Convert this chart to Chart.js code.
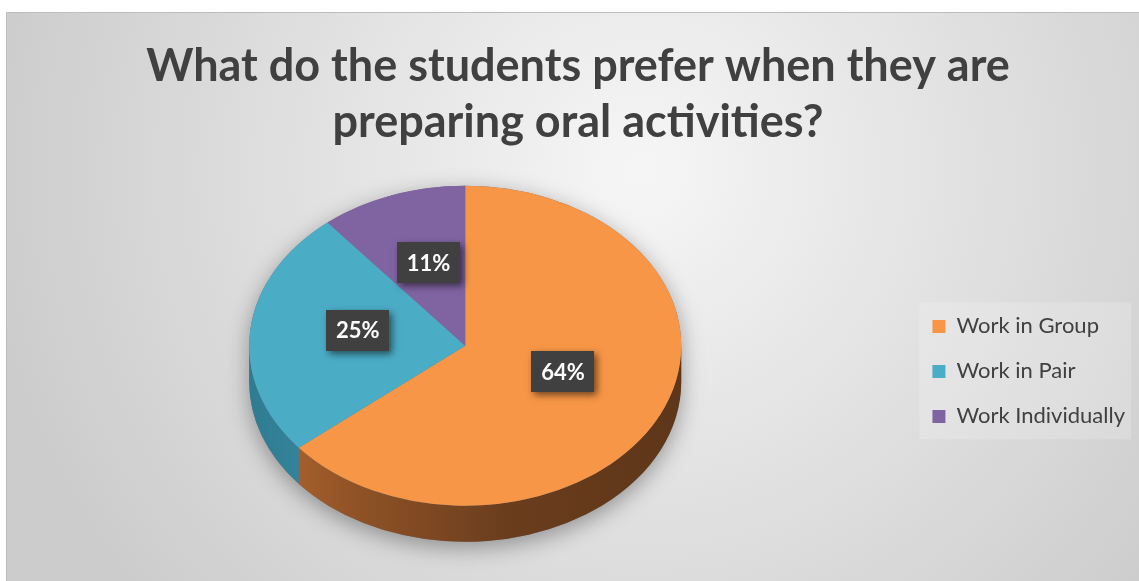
<!DOCTYPE html>
<html>
<head>
<meta charset="utf-8">
<script src="https://cdn.jsdelivr.net/npm/chart.js@4/dist/chart.umd.min.js"></script>
<style>
  html, body { margin: 0; padding: 0; background: #fff; }
  #wrap { width: 1139px; height: 581px; }
</style>
</head>
<body>
<div id="wrap"><canvas id="chartCanvas"></canvas></div>
<script>
// --- data ---
const categories = ["Work in Group", "Work in Pair", "Work Individually"];
const shares = [64, 25, 11];
const sliceColors = ["#F79646", "#4BACC6", "#8064A2"];
const sideColors = [
  ["#b56830", "#8f5226", "#6a3d1d", "#5e3619"],
  ["#2f7c92", "#3a8ba3", "#3a8ba3", "#3a8ba3"],
  ["#5d4a78", "#5d4a78", "#5d4a78", "#5d4a78"]
];
const titleLines = ["What do the students prefer when they are", "preparing oral activities?"];

const canvas = document.getElementById("chartCanvas");
const inkColor = "#404040";

// --- frame + background gradient ---
const frameBg = {
  id: "frameBg",
  beforeDraw(chart) {
    const { ctx, width, height } = chart;
    ctx.save();
    ctx.fillStyle = "#ffffff";
    ctx.fillRect(0, 0, width, height);
    const g = ctx.createRadialGradient(640, 170, 0, 640, 170, 660);
    g.addColorStop(0, "#f6f6f6");
    g.addColorStop(1, "#cccccc");
    ctx.fillStyle = g;
    ctx.fillRect(6, 12, width - 6, height - 12);
    ctx.strokeStyle = "#bdbdbd";
    ctx.lineWidth = 1;
    ctx.strokeRect(6.5, 12.5, width, height);

    // faint box behind the legend
    const lg = chart.legend;
    if (lg && lg.legendHitBoxes && lg.legendHitBoxes.length) {
      const hb = lg.legendHitBoxes;
      const x0 = hb[0].left - 13, y0 = hb[0].top - 13;
      const x1 = Math.max(...hb.map(h => h.left + h.width)) + 6;
      const y1 = hb[hb.length - 1].top + hb[hb.length - 1].height + 12;
      ctx.fillStyle = "rgba(255,255,255,0.18)";
      ctx.fillRect(x0, y0, x1 - x0, y1 - y0);
    }
    ctx.restore();
  }
};

// --- tilt the pie into an ellipse and give it a side wall ---
function tiltY(chart, y, o) {
  const a = chart.getDatasetMeta(0).data[0];
  return a.y - o.lift + (y - a.y) * o.ratio;
}

const pie3d = {
  id: "pie3d",
  beforeDatasetsDraw(chart, args, o) {
    const ctx = chart.ctx;
    const arcs = chart.getDatasetMeta(0).data;
    const { x: cx, y: cy, outerRadius: r } = arcs[0];
    const D = o.depth / o.ratio;

    ctx.save();
    ctx.translate(0, -o.lift);
    ctx.translate(cx, cy);
    ctx.scale(1, o.ratio);
    ctx.translate(-cx, -cy);

    // soft shadow under the whole pie
    ctx.save();
    ctx.shadowColor = "rgba(0,0,0,0.35)";
    ctx.shadowBlur = 22;
    ctx.shadowOffsetY = 6;
    ctx.fillStyle = "#777";
    ctx.beginPath();
    ctx.arc(cx, cy + D, r, 0, Math.PI);
    ctx.arc(cx, cy, r, Math.PI, 0);
    ctx.closePath();
    ctx.fill();
    ctx.restore();

    // side walls, only the front half is visible
    arcs.forEach((arc, i) => {
      const a = Math.max(arc.startAngle, 0), b = Math.min(arc.endAngle, Math.PI);
      if (b <= a) return;
      const g = ctx.createLinearGradient(cx - r, 0, cx + r, 0);
      const stops = sideColors[i];
      g.addColorStop(0, stops[0]);
      g.addColorStop(0.25, stops[1]);
      g.addColorStop(0.6, stops[2]);
      g.addColorStop(1, stops[3]);
      ctx.fillStyle = g;
      ctx.beginPath();
      ctx.arc(cx, cy, r, a, b);
      ctx.arc(cx, cy + D, r, b, a, true);
      ctx.closePath();
      ctx.fill();
    });
    // keep the transform on for the slices themselves
  },
  afterDatasetsDraw(chart, args, o) {
    const ctx = chart.ctx;
    ctx.restore();

    // data labels in dark boxes
    const arcs = chart.getDatasetMeta(0).data;
    ctx.save();
    ctx.font = "bold 22px Lato";
    ctx.textAlign = "center";
    ctx.textBaseline = "middle";
    arcs.forEach((arc, i) => {
      const p = arc.tooltipPosition();
      const x = p.x, y = tiltY(chart, p.y, o) + o.labelShift;
      const w = 63, h = 41;
      ctx.shadowColor = "rgba(0,0,0,0.55)";
      ctx.shadowBlur = 7;
      ctx.shadowOffsetX = 3;
      ctx.shadowOffsetY = 3;
      ctx.fillStyle = "#404040";
      ctx.fillRect(Math.round(x - w / 2), Math.round(y - h / 2), w, h);
      ctx.shadowColor = "transparent";
      ctx.fillStyle = "#ffffff";
      ctx.fillText(shares[i] + "%", x, y + 1);
    });
    ctx.restore();
  }
};

const config = {
  type: "pie",
  data: {
    labels: categories,
    datasets: [{
      label: "Preference",
      data: shares,
      backgroundColor: sliceColors,
      borderWidth: 0,
      radius: 216
    }]
  },
  options: {
    responsive: false,
    animation: false,
    layout: { padding: { left: 21, top: 6, right: 4, bottom: 0 } },
    plugins: {
      title: {
        display: true,
        text: titleLines,
        color: inkColor,
        font: { family: "Lato", size: 45, weight: "bold", lineHeight: 1.24 },
        padding: { top: 33, bottom: 0 }
      },
      legend: {
        position: "right",
        fullSize: false,
        // empty title only pushes the items down a little
        title: { display: true, text: " ", font: { size: 1 }, padding: 5 },
        labels: {
          color: inkColor,
          font: { family: "Lato", size: 22 },
          boxWidth: 13,
          boxHeight: 13,
          padding: 23
        }
      },
      tooltip: { enabled: false },
      pie3d: { ratio: 160 / 216, lift: 20, depth: 36, labelShift: -8 }
    }
  },
  plugins: [frameBg, pie3d]
};

canvas.width = 1139;
canvas.height = 581;
const currentChart = new Chart(canvas, config);
</script>
</body>
</html>
